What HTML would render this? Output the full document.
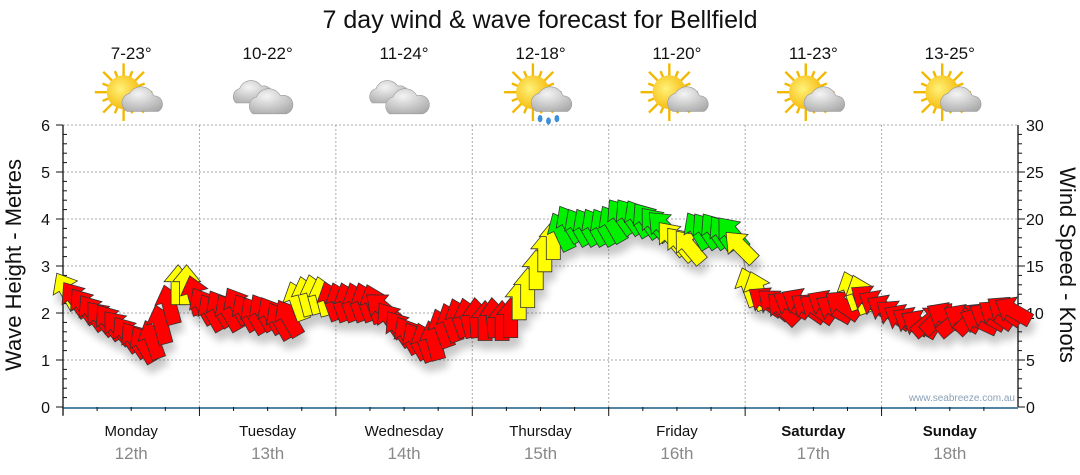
<!DOCTYPE html>
<html><head><meta charset="utf-8"><style>
body{margin:0;background:#fff;}
svg{display:block;font-family:"Liberation Sans",sans-serif;}
</style></head><body>
<svg id="chart" width="1080" height="475" viewBox="0 0 1080 475">
<defs>
<filter id="sh" x="-20%" y="-20%" width="140%" height="160%"><feGaussianBlur in="SourceAlpha" stdDeviation="4"/><feOffset dx="3" dy="9"/><feComponentTransfer><feFuncA type="linear" slope="0.22"/></feComponentTransfer><feMerge><feMergeNode/><feMergeNode in="SourceGraphic"/></feMerge></filter>
<radialGradient id="cg" cx="0.4" cy="0.3" r="0.8"><stop offset="0" stop-color="#f4f4f4"/><stop offset="1" stop-color="#a9a9a9"/></radialGradient>
<radialGradient id="sg" cx="0.4" cy="0.4" r="0.7"><stop offset="0" stop-color="#fff27a"/><stop offset="1" stop-color="#f5b400"/></radialGradient>
</defs>
<text x="540" y="28" font-size="25" text-anchor="middle" fill="#111">7 day wind &amp; wave forecast for Bellfield</text>
<g id="grid"></g>
<g id="axes"></g>
<g id="topicons"></g>
<text transform="translate(21,265) rotate(-90)" font-size="22" text-anchor="middle" fill="#111">Wave Height - Metres</text>
<text transform="translate(1060,265) rotate(90)" font-size="22" text-anchor="middle" fill="#111">Wind Speed - Knots</text>
<text x="1015" y="401" font-size="10" text-anchor="end" fill="#8aa0b8">www.seabreeze.com.au</text>
<g id="series"></g>
</svg>
<script>
const days=["Monday","Tuesday","Wednesday","Thursday","Friday","Saturday","Sunday"];
const dates=["12th","13th","14th","15th","16th","17th","18th"];
const temps=["7-23°","10-22°","11-24°","12-18°","11-20°","11-23°","13-25°"];
const icons=["sun-cloud","cloud","cloud","rain","sun-cloud","sun-cloud","sun-cloud"];
const waveTicks=[0,1,2,3,4,5,6];
const windTicks=[0,5,10,15,20,25,30];
const windSpeed=[12.3,11.4,10.7,10.0,9.4,9.0,8.4,7.7,7.1,6.6,7.1,8.7,10.8,12.9,12.9,11.8,
10.7,10.0,10.4,10.0,10.7,10.0,9.7,10.0,9.7,9.1,9.4,11.2,11.7,11.9,11.7,11.2,
11.1,11.1,11.1,11.1,10.9,10.5,9.2,8.3,7.6,7.0,6.8,7.0,8.3,8.9,9.4,9.4,
9.4,9.1,9.4,9.1,9.4,11.3,12.6,14.5,16.4,17.7,18.6,19.4,19.1,19.1,19.1,19.1,
19.4,20.2,20.2,20.0,19.8,19.4,19.1,17.9,17.3,17.0,18.7,18.7,18.7,18.4,18.4,17.0,
12.7,12.3,11.2,10.9,10.4,10.9,11.1,10.5,10.4,10.9,10.4,10.8,12.3,11.9,11.4,10.9,
10.4,9.8,9.4,9.1,8.8,9.1,9.4,9.6,9.1,9.4,9.4,9.1,9.6,9.8,10.2,10.2];
const windDir=[-30,-35,-35,-35,-40,-35,-40,-35,-35,-30,-20,-15,-15,0,0,-15,
-30,-30,-30,-30,-30,-30,-30,-30,-30,-30,-30,-20,-15,-15,-15,-20,
-20,-20,-20,-20,-20,-50,-35,-35,-30,-30,-20,-15,-20,-20,-20,-15,
-5,0,-5,0,0,0,0,0,0,0,-25,-30,-30,-30,-30,-30,
-30,-35,-35,-30,-35,-40,-45,-40,-40,-40,-30,-35,-35,-35,-40,-45,
-20,-20,-55,-50,-45,-60,-60,-55,-55,-60,-60,-55,-20,-20,-55,-60,
-60,-55,-60,-60,-60,50,45,-60,50,-60,45,-65,-60,-55,-55,-60];
const windColor=["y","r","r","r","r","r","r","r","r","r","r","r","r","y","y","r",
"r","r","r","r","r","r","r","r","r","r","r","y","y","y","y","r",
"r","r","r","r","r","r","r","r","r","r","r","r","r","r","r","r",
"r","r","r","r","r","y","y","y","y","y","g","g","g","g","g","g",
"g","g","g","g","g","g","g","y","y","y","g","g","g","g","g","y",
"y","y","r","r","r","r","r","r","r","r","r","r","y","y","r","r",
"r","r","r","r","r","r","r","r","r","r","r","r","r","r","r","r"];
const NS="http://www.w3.org/2000/svg";
const X0=63,X1=1018,Y0=407,Y1=125,DW=(X1-X0)/7;
const yW=v=>Y0-(v/6)*(Y0-Y1);
const yK=v=>Y0-(v/30)*(Y0-Y1);
const xI=i=>X0+(i+0.5)*(X1-X0)/windSpeed.length;
function mk(tag,attrs,parent){const e=document.createElementNS(NS,tag);for(const k in attrs)e.setAttribute(k,attrs[k]);parent.appendChild(e);return e;}
const gridG=document.getElementById('grid'),axesG=document.getElementById('axes'),topG=document.getElementById('topicons'),seriesG=document.getElementById('series');
waveTicks.forEach((t,i)=>{
 if(t>0){const l=mk('line',{x1:X0,x2:X1,y1:yW(t),y2:yW(t),stroke:'#aaa','stroke-dasharray':'2,2','stroke-width':1},gridG);
 
 }
 const tx=mk('text',{x:50,y:yW(t)+6,'font-size':16,'text-anchor':'end',fill:'#111'},axesG);tx.textContent=t;
 
 
 mk('line',{x1:X0-7,x2:X0,y1:yW(t),y2:yW(t),stroke:'#111'},axesG);
});
for(let m=0;m<30;m++){if(m%5)mk('line',{x1:X0,x2:X0+4,y1:yW(m/5),y2:yW(m/5),stroke:'#111'},axesG);
 mk('line',{x1:X1,x2:X1+(m%5?4:7),y1:yK(m),y2:yK(m),stroke:'#111'},axesG);}
windTicks.forEach(t=>{const tx=mk('text',{x:1026,y:yK(t)+6,'font-size':16,fill:'#111'},axesG);tx.textContent=t;
 
 });
mk('line',{x1:X0,x2:X0,y1:Y1,y2:Y0+8,stroke:'#111','stroke-width':1.3},axesG);
mk('line',{x1:X1,x2:X1,y1:Y1,y2:Y0,stroke:'#111','stroke-width':1.3},axesG);
mk('line',{x1:X0,x2:X1,y1:Y0+1,y2:Y0+1,stroke:'#1a5a86','stroke-width':1.5},axesG);
days.forEach((d,i)=>{
 const bx=X0+i*DW,cx=bx+DW/2;
 if(i>0){const l=mk('line',{x1:bx,x2:bx,y1:Y1,y2:Y0,stroke:'#aaa','stroke-dasharray':'2,2'},gridG);
 
 }
 mk('line',{x1:bx,x2:bx,y1:Y0,y2:Y0+9,stroke:'#111'},axesG);
 for(let q=1;q<4;q++)mk('line',{x1:bx+q*DW/4,x2:bx+q*DW/4,y1:Y0,y2:Y0+4,stroke:'#111'},axesG);
 const dn=mk('text',{x:cx,y:436,'font-size':15,'text-anchor':'middle',fill:'#111','font-weight':i>=5?'bold':'normal'},axesG);dn.textContent=d;
 
 
 const dt=mk('text',{x:cx,y:459,'font-size':17,'text-anchor':'middle',fill:'#888'},axesG);dt.textContent=dates[i];
 
 
 const tp=mk('text',{x:cx,y:59,'font-size':17,'text-anchor':'middle',fill:'#111'},topG);tp.textContent=temps[i];
 
 
 const g=mk('g',{transform:`translate(${cx+2},97) scale(1.2)`},topG);
 
 
 const ic=icons[i];
 if(ic==='sun-cloud'||ic==='rain'){
  for(let r=0;r<16;r++){const a=r*Math.PI/8;mk('line',{x1:-8+Math.cos(a)*12,y1:-4+Math.sin(a)*12,x2:-8+Math.cos(a)*(r%2?19:24),y2:-4+Math.sin(a)*(r%2?19:24),stroke:'#f2b800','stroke-width':2},g);}
  mk('circle',{cx:-8,cy:-4,r:14,fill:'url(#sg)'},g);
  mk('path',{d:'M-5,12 a8,8 0 0 1 2,-15 a11,11 0 0 1 20,2 a7,7 0 0 1 4,13 z',fill:'url(#cg)',stroke:'#999','stroke-width':0.5},g);
  if(ic==='rain'){[[-2,18],[5,20],[12,18]].forEach(p=>mk('ellipse',{cx:p[0],cy:p[1],rx:2,ry:3,fill:'#3c8fd8'},g));}
 } else {
  mk('path',{d:'M-28,5 a7,7 0 0 1 3,-12 a10,10 0 0 1 18,-2 a6,6 0 0 1 4,14 z',fill:'url(#cg)',stroke:'#999','stroke-width':0.5},g);
  mk('path',{d:'M-14,14 a8,8 0 0 1 3,-14 a11,11 0 0 1 20,-1 a7,7 0 0 1 5,15 z',fill:'url(#cg)',stroke:'#999','stroke-width':0.5},g);
 }
});
const cols={r:'#ff0000',y:'#ffff00',g:'#00f000'};
const pts=windSpeed.map((v,i)=>xI(i).toFixed(1)+','+yK(v).toFixed(1)).join(' ');
const pl=mk('polyline',{points:pts,fill:'none',stroke:'#999','stroke-width':1},seriesG);


const ag=mk('g',{filter:'url(#sh)'},seriesG);
windSpeed.forEach((v,i)=>{
 const p=mk('polygon',{points:'0,-21 14,-4 7,-4 7,19 -7,19 -7,-4 -14,-4',fill:cols[windColor[i]],stroke:'#333','stroke-width':0.8,transform:`translate(${xI(i).toFixed(1)},${yK(v).toFixed(1)}) rotate(${windDir[i]})`},ag);
 
 
});
</script>
</body></html>
